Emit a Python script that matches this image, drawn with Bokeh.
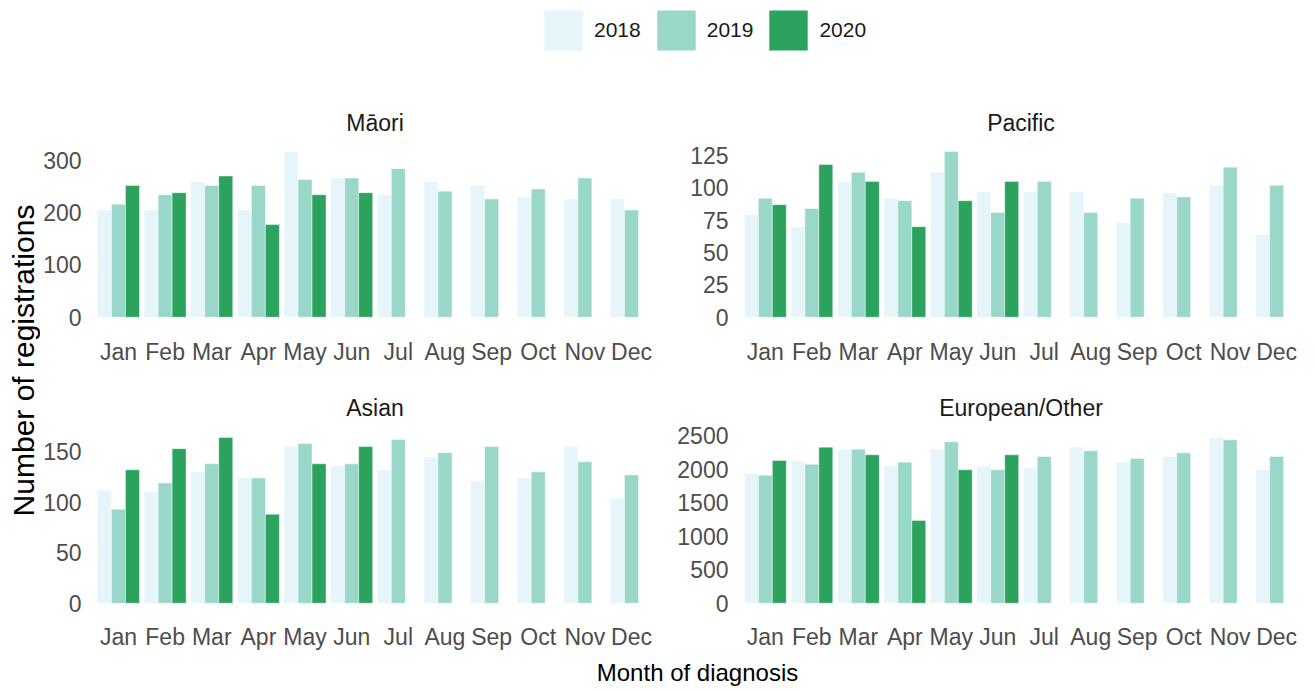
from bokeh.plotting import figure
from bokeh.models import (ColumnDataSource, FactorRange, Range1d, Legend, LegendItem,
                          Title, FixedTicker)
from bokeh.transform import dodge
from bokeh.layouts import column, row
from bokeh.embed import file_html
from bokeh.resources import INLINE

# ---------------- data ----------------
months = ["Jan", "Feb", "Mar", "Apr", "May", "Jun",
          "Jul", "Aug", "Sep", "Oct", "Nov", "Dec"]
years = ["2018", "2019", "2020"]
colors = ["#E5F5F9", "#99D8C9", "#2CA25F"]

maori_2018 = [205, 205, 259, 205, 317, 266, 234, 259, 252, 230, 226, 226]
maori_2019 = [216, 234, 252, 252, 263, 266, 284, 241, 226, 245, 266, 205]
maori_2020 = [252, 238, 270, 177, 234, 238]

pacific_2018 = [79, 70, 105, 92, 112, 97, 97, 97, 73, 96, 102, 64]
pacific_2019 = [92, 84, 112, 90, 128, 81, 105, 81, 92, 93, 116, 102]
pacific_2020 = [87, 118, 105, 70, 90, 105]

asian_2018 = [112, 110, 130, 124, 155, 136, 132, 145, 121, 124, 155, 104]
asian_2019 = [93, 119, 138, 124, 158, 138, 162, 149, 155, 130, 140, 127]
asian_2020 = [132, 153, 164, 88, 138, 155]

euro_2018 = [1933, 2127, 2296, 2043, 2296, 2043, 2018, 2326, 2102, 2187, 2465, 1988]
euro_2019 = [1909, 2072, 2296, 2102, 2406, 1988, 2187, 2271, 2157, 2241, 2435, 2187]
euro_2020 = [2127, 2326, 2212, 1233, 1988, 2212]

maori_ticks = [0, 100, 200, 300]
pacific_ticks = [0, 25, 50, 75, 100, 125]
asian_ticks = [0, 50, 100, 150]
euro_ticks = [0, 500, 1000, 1500, 2000, 2500]

FONT = "Liberation Sans"
TICK_COLOR = "#4D4D4D"


def panel(title, series, yrange, ticks, width, height, bl, br, bt, bb):
    p = figure(x_range=FactorRange(*months, range_padding=0.2 / 12,
                                   range_padding_units="percent"),
               y_range=Range1d(*yrange), width=width, height=height,
               min_border_left=bl, min_border_right=br,
               min_border_top=bt, min_border_bottom=bb,
               output_backend="svg", toolbar_location=None,
               outline_line_color=None, title=title)
    offsets = [-0.3, 0.0, 0.3]
    for vals, c, off in zip(series, colors, offsets):
        src = ColumnDataSource(dict(month=months[:len(vals)], value=vals))
        p.vbar(x=dodge("month", off, range=p.x_range), top="value", width=0.3,
               source=src, fill_color=c, line_color="white", line_width=0.6,
               line_alpha=0.7)
    p.xgrid.grid_line_color = None
    p.ygrid.grid_line_color = None
    for ax in (p.xaxis, p.yaxis):
        ax.axis_line_color = None
        ax.major_tick_line_color = None
        ax.minor_tick_line_color = None
        ax.major_tick_out = 0
        ax.major_tick_in = 0
        ax.minor_tick_out = 0
        ax.minor_tick_in = 0
        ax.axis_label_standoff = 0
        ax.major_label_text_font = FONT
        ax.major_label_text_font_size = "23px"
        ax.major_label_text_color = TICK_COLOR
    p.yaxis.ticker = FixedTicker(ticks=ticks)
    p.yaxis.major_label_standoff = 9
    p.xaxis.major_label_standoff = 13
    p.title.align = "center"
    p.title.text_font = FONT
    p.title.text_font_size = "23px"
    p.title.text_font_style = "normal"
    p.title.text_color = "#1A1A1A"
    p.title.standoff = 10
    return p


LW, RW = 632, 643
TH, BH = 317, 271

p1 = panel("Māori", [maori_2018, maori_2019, maori_2020], (-15.9, 337.8),
           maori_ticks, LW, TH, 50, 13, 72, 60)
p2 = panel("Pacific", [pacific_2018, pacific_2019, pacific_2020], (-6.42, 136.6),
           pacific_ticks, RW, TH, 65, 11, 72, 60)
p3 = panel("Asian", [asian_2018, asian_2019, asian_2020], (-7.23, 175.9),
           asian_ticks, LW, BH, 50, 13, 40, 46)
p4 = panel("European/Other", [euro_2018, euro_2019, euro_2020], (-108.8, 2649),
           euro_ticks, RW, BH, 65, 11, 40, 46)

# ---------------- legend strip ----------------
leg = figure(width=1315, height=68, x_range=FactorRange(*months), y_range=Range1d(0, 1),
             min_border=0, x_axis_location=None, y_axis_location=None,
             output_backend="svg", toolbar_location=None, outline_line_color=None)
leg.xgrid.grid_line_color = None
leg.ygrid.grid_line_color = None
items = []
for y, c, vals in zip(years, colors, [maori_2018, maori_2019, maori_2020]):
    src = ColumnDataSource(dict(month=months[:len(vals)], value=vals))
    # zero-height bars: only their legend swatch is visible
    r = leg.vbar(x="month", top=0, bottom=0, width=0.3, source=src,
                 fill_color=c, line_color=None)
    items.append(LegendItem(label=y, renderers=[r]))
legend = Legend(items=items, orientation="horizontal", location=(449, 13),
                glyph_width=48, glyph_height=50, label_standoff=7, spacing=11,
                padding=0, margin=0, border_line_color=None, background_fill_alpha=0,
                label_text_font=FONT, label_text_font_size="21px",
                label_text_color="#1A1A1A")
leg.add_layout(legend)

# ---------------- y title strip ----------------
yt = figure(width=40, height=TH + BH, x_range=Range1d(0, 1), y_range=Range1d(0, 1),
            min_border_left=39, min_border_right=0, min_border_top=72,
            min_border_bottom=76, x_axis_location=None, y_axis_location=None,
            output_backend="svg", toolbar_location=None, outline_line_color=None)
yt.xgrid.grid_line_color = None
yt.ygrid.grid_line_color = None
yt.add_layout(Title(text="Number of registrations", align="center", text_font=FONT,
                    text_font_size="30px", text_font_style="normal",
                    text_color="black", standoff=0), "left")

# ---------------- x title strip ----------------
xt = figure(width=1315, height=35, x_range=Range1d(0, 1), y_range=Range1d(0, 1),
            min_border_left=90, min_border_right=11, min_border_top=0,
            min_border_bottom=34, x_axis_location=None, y_axis_location=None,
            output_backend="svg", toolbar_location=None, outline_line_color=None)
xt.xgrid.grid_line_color = None
xt.ygrid.grid_line_color = None
xt.add_layout(Title(text="Month of diagnosis", align="center", text_font=FONT,
                    text_font_size="24px", text_font_style="normal",
                    text_color="black", standoff=-2), "below")

layout = column(leg,
                row(yt, column(row(p1, p2), row(p3, p4))),
                xt)

open("out.html", "w").write(file_html(layout, INLINE))
